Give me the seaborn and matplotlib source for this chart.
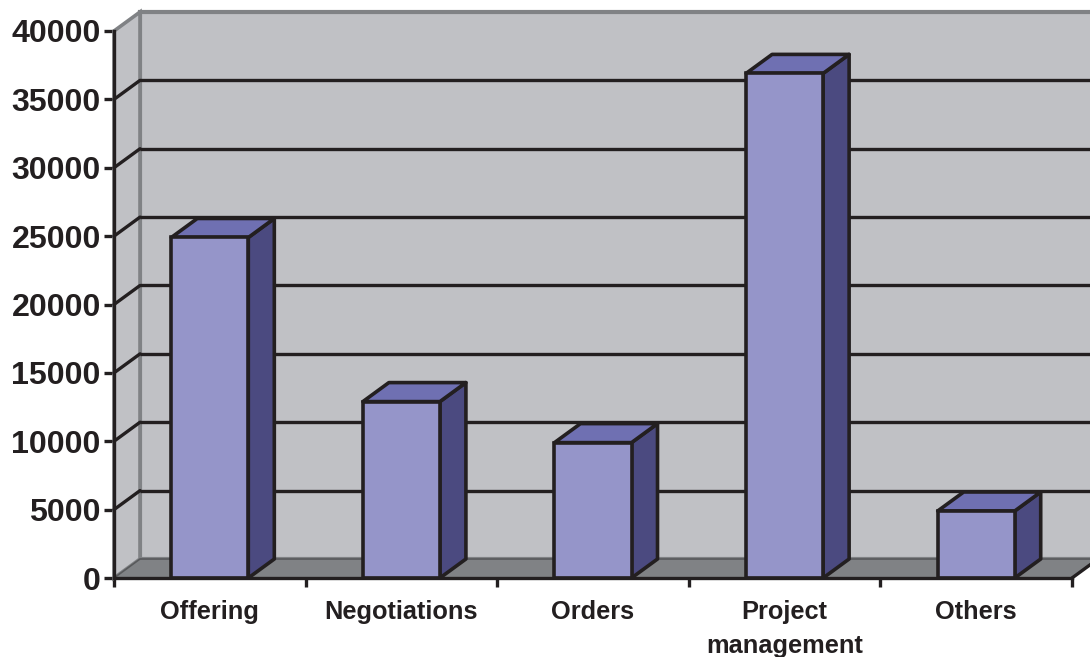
#!/usr/bin/env python3
"""Pseudo 3D column chart, drawn on seaborn bars"""

import matplotlib
matplotlib.use('Agg')
import matplotlib.pyplot as plt
from matplotlib.patches import Polygon
from matplotlib.transforms import Affine2D
import pandas as pd
import seaborn as sns

categories = ['Offering', 'Negotiations', 'Orders', 'Project\nmanagement', 'Others']
values = [24900, 12900, 9900, 36900, 4900]
y_ticks = [0, 5000, 10000, 15000, 20000, 25000, 30000, 35000, 40000]

INK = '#231f20'
WALL = '#c0c1c5'
FLOOR = '#808285'
FRONT = '#9595c9'
SIDE = '#4b4a80'
TOP = '#6f70b2'

# depth of the fake 3D box, in pixels
DX, DY = 26, 19

sns.set_theme(style='white')
plt.rcParams['font.family'] = ['Liberation Sans', 'DejaVu Sans']

W, H = 1090, 657
fig = plt.figure(figsize=(W / 100, H / 100), dpi=100)
ax = fig.add_axes([114 / W, (H - 578) / H, 958 / W, 547 / H])

df = pd.DataFrame({'category': categories, 'value': values})
sns.barplot(data=df, x='category', y='value', width=0.402, color=FRONT,
            saturation=1, edgecolor=INK, linewidth=2.6, ax=ax, zorder=5)

ax.set_xlim(-0.5, len(categories) - 0.5)
ax.set_ylim(y_ticks[0], y_ticks[-1])

back = Affine2D().translate(DX, DY) + ax.transData.inverted()


def to_back(x, y):
    """Data point pushed to the back of the box"""
    return tuple(back.transform(ax.transData.transform((x, y))))


x0, x1 = ax.get_xlim()
y0, y1 = ax.get_ylim()

# walls and floor
ax.add_patch(Polygon([to_back(x0, y0), to_back(x1, y0), to_back(x1, y1), to_back(x0, y1)],
                     facecolor=WALL, edgecolor=FLOOR, linewidth=3, clip_on=False, zorder=0))
ax.add_patch(Polygon([(x0, y0), to_back(x0, y0), to_back(x0, y1), (x0, y1)],
                     facecolor=WALL, edgecolor=FLOOR, linewidth=2.6, clip_on=False, zorder=1))
ax.add_patch(Polygon([(x0, y0), (x1, y0), to_back(x1, y0), to_back(x0, y0)],
                     facecolor=FLOOR, edgecolor='#58595b', linewidth=1.2, clip_on=False, zorder=1))

# grid on side and back wall
for v in y_ticks[1:-1]:
    bx, by = to_back(x0, v)
    ex, ey = to_back(x1, v)
    ax.plot([x0, bx], [v, by], color=INK, lw=2.4, clip_on=False, zorder=2)
    ax.plot([bx, ex], [by, ey], color=INK, lw=2.4, clip_on=False, zorder=2,
            solid_capstyle='butt')

# side and top faces follow from the bars seaborn drew
for bar in ax.patches[:]:
    if bar.get_zorder() != 5:
        continue
    left, right = bar.get_x(), bar.get_x() + bar.get_width()
    top = bar.get_height()
    ax.add_patch(Polygon([(right, 0), to_back(right, 0), to_back(right, top), (right, top)],
                         facecolor=SIDE, edgecolor=INK, linewidth=2.6,
                         joinstyle='round', clip_on=False, zorder=4))
    ax.add_patch(Polygon([(left, top), (right, top), to_back(right, top), to_back(left, top)],
                         facecolor=TOP, edgecolor=INK, linewidth=2.6,
                         joinstyle='round', clip_on=False, zorder=4))

# front axes and the stub on the right of the floor
ex, ey = to_back(x1, y0)
ax.plot([x1, ex], [y0, ey], color=INK, lw=2.4, clip_on=False, zorder=3)

for side in ['top', 'right']:
    ax.spines[side].set_visible(False)
for side in ['left', 'bottom']:
    ax.spines[side].set_color(INK)
    ax.spines[side].set_linewidth(2.4)
    ax.spines[side].set_zorder(6)

ax.set_xlabel('')
ax.set_ylabel('')
ax.set_yticks(y_ticks)
ax.set_yticklabels([str(v) for v in y_ticks], fontsize=23.1, fontweight='bold', color=INK)
ax.set_xticks([x - 0.5 for x in range(len(categories) + 1)], minor=True)
ax.set_xticks(range(len(categories)))
ax.set_xticklabels(categories, fontsize=18.3, fontweight='bold', color=INK, linespacing=1.5)
ax.tick_params(axis='y', which='major', direction='out', left=True, length=7, width=2.4,
               color=INK, pad=2.5)
ax.tick_params(axis='x', which='major', bottom=False, pad=10)
ax.tick_params(axis='x', which='minor', direction='out', bottom=True, length=6.5, width=2.4,
               color=INK)

plt.savefig('out.png', dpi=100)
plt.close()
